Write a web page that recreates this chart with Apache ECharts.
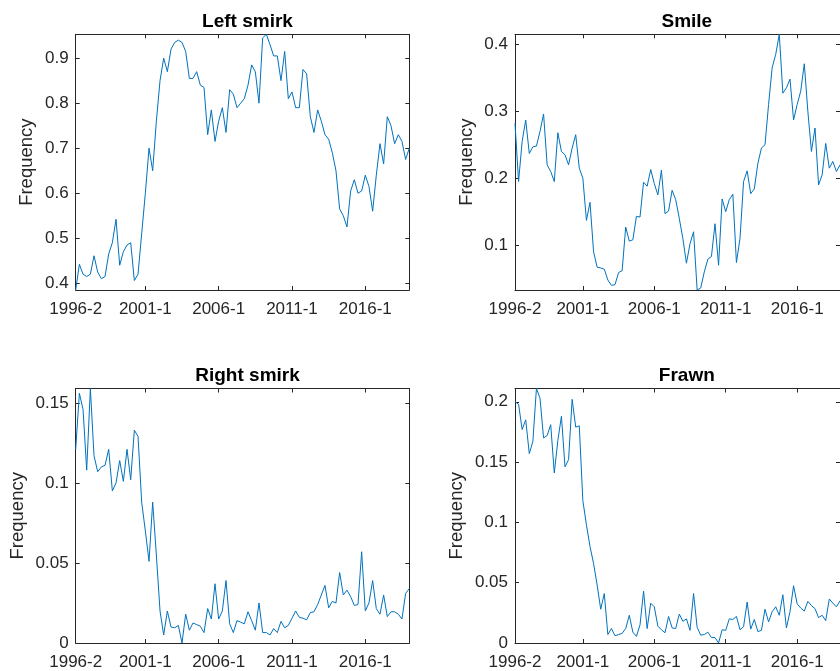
<!DOCTYPE html>
<html>
<head>
<meta charset="utf-8">
<script src="https://cdn.jsdelivr.net/npm/echarts@6/dist/echarts.min.js"></script>
<style>
html,body{margin:0;padding:0;background:#fff;}
#chart{width:840px;height:671px;}
</style>
</head>
<body>
<div id="chart"></div>
<script>
// Quarterly data, index 0 = 1996-2 ... index 91 = 2019-1
const xTickIndex = [0, 19, 39, 59, 79];
const xTickLabels = ['1996-2', '2001-1', '2006-1', '2011-1', '2016-1'];

const titles = ['Left smirk', 'Smile', 'Right smirk', 'Frawn'];

const leftSmirk = [
  0.385,0.442,0.42,0.415,0.42,0.461,0.425,0.41,0.415,0.465,
  0.49,0.542,0.44,0.47,0.485,0.49,0.406,0.42,0.51,0.60,
  0.70,0.65,0.76,0.85,0.90,0.87,0.92,0.935,0.94,0.935,
  0.915,0.855,0.855,0.87,0.84,0.835,0.73,0.785,0.715,0.76,
  0.79,0.735,0.83,0.82,0.79,0.80,0.81,0.84,0.885,0.87,
  0.80,0.945,0.953,0.93,0.905,0.905,0.85,0.915,0.81,0.825,
  0.79,0.79,0.875,0.865,0.77,0.735,0.785,0.76,0.73,0.72,
  0.69,0.65,0.565,0.55,0.525,0.605,0.63,0.60,0.605,0.64,
  0.615,0.56,0.64,0.71,0.665,0.77,0.75,0.71,0.73,0.715,
  0.675,0.70
];
const smile = [
  0.282,0.195,0.255,0.287,0.237,0.247,0.248,0.27,0.296,0.22,
  0.21,0.195,0.268,0.24,0.235,0.22,0.245,0.265,0.215,0.20,
  0.137,0.164,0.09,0.067,0.066,0.064,0.048,0.04,0.041,0.059,
  0.062,0.127,0.106,0.108,0.143,0.142,0.194,0.188,0.213,0.192,
  0.175,0.212,0.147,0.151,0.182,0.168,0.14,0.11,0.073,0.102,
  0.12,0.033,0.036,0.06,0.079,0.083,0.132,0.07,0.169,0.15,
  0.168,0.176,0.074,0.11,0.195,0.211,0.177,0.184,0.222,0.245,
  0.25,0.31,0.365,0.385,0.415,0.327,0.335,0.348,0.287,0.31,
  0.33,0.371,0.3,0.24,0.275,0.19,0.205,0.252,0.215,0.225,
  0.21,0.22
];
const rightSmirk = [
  0.121,0.156,0.146,0.108,0.159,0.117,0.107,0.11,0.111,0.121,
  0.095,0.1,0.114,0.101,0.121,0.102,0.133,0.129,0.088,0.07,
  0.051,0.088,0.055,0.02,0.005,0.02,0.01,0.0095,0.011,0,
  0.018,0.008,0.0125,0.0115,0.0105,0.0065,0.0215,0.015,0.037,0.015,
  0.02,0.039,0.012,0.0065,0.014,0.013,0.012,0.0195,0.014,0.008,
  0.025,0.0065,0.0065,0.005,0.009,0.0065,0.0135,0.0095,0.011,0.0155,
  0.02,0.016,0.0155,0.0145,0.019,0.0195,0.024,0.03,0.036,0.022,
  0.026,0.025,0.044,0.03,0.033,0.029,0.0235,0.024,0.057,0.02,
  0.025,0.039,0.0215,0.018,0.03,0.0165,0.0195,0.0195,0.018,0.015,
  0.031,0.034
];
const frawn = [
  0.2,0.198,0.177,0.185,0.157,0.167,0.211,0.203,0.17,0.172,
  0.181,0.141,0.168,0.188,0.146,0.152,0.202,0.179,0.18,0.118,
  0.098,0.08,0.066,0.048,0.028,0.041,0.007,0.012,0.006,0.007,
  0.008,0.012,0.023,0.009,0.0055,0.015,0.043,0.012,0.033,0.03,
  0.014,0.011,0.0085,0.022,0.0125,0.012,0.024,0.018,0.02,0.0105,
  0.041,0.013,0.0065,0.007,0.009,0.0045,0.0045,0,0.011,0.0105,
  0.02,0.0195,0.022,0.011,0.0135,0.034,0.0115,0.0195,0.0095,0.0105,
  0.028,0.0175,0.026,0.03,0.023,0.04,0.0125,0.026,0.0475,0.0325,
  0.029,0.0265,0.0345,0.031,0.0285,0.021,0.023,0.0185,0.0365,0.033,
  0.03,0.035
];

const yTicksLeftSmirk = [0.4, 0.5, 0.6, 0.7, 0.8, 0.9];
const yTicksSmile = [0.1, 0.2, 0.3, 0.4];
const yTicksRightSmirk = [0, 0.05, 0.1, 0.15];
const yTicksFrawn = [0, 0.05, 0.1, 0.15, 0.2];

const seriesData = [leftSmirk, smile, rightSmirk, frawn];
const yTicks = [yTicksLeftSmirk, yTicksSmile, yTicksRightSmirk, yTicksFrawn];

// layout
const grids = [
  {left: 75.7, top: 34.3, width: 333.6, height: 255.7},
  {left: 515,  top: 34.3, width: 333.6, height: 255.7},
  {left: 75.7, top: 388.5, width: 333.6, height: 256.2},
  {left: 515,  top: 388.5, width: 333.6, height: 256.2}
];
const nameGaps = [39, 39, 48, 49];
const titleTops = [7.5, 7.5, 361.5, 361.5];

const FONT = 'Liberation Sans, Arial, Helvetica, sans-serif';
const TXT = '#262626';
const AX = '#262626';
const LINE = '#0072BD';

const option = {
  animation: false,
  backgroundColor: '#ffffff',
  title: [],
  grid: [],
  xAxis: [],
  yAxis: [],
  series: []
};

for (let i = 0; i < 4; i++) {
  const g = grids[i];
  option.grid.push({left: g.left, top: g.top, width: g.width, height: g.height, containLabel: false});
  option.title.push({
    text: titles[i],
    left: g.left + g.width / 2,
    top: titleTops[i],
    textAlign: 'center',
    textStyle: {fontFamily: FONT, fontSize: 19, fontWeight: 'bold', color: '#000'}
  });
  const lastIdx = seriesData[i].length - 1;
  option.xAxis.push({
    type: 'value', gridIndex: i, position: 'bottom', min: 0, max: lastIdx,
    axisLine: {show: true, onZero: false, lineStyle: {color: AX, width: 1}},
    axisTick: {show: true, inside: true, length: 4, customValues: xTickIndex, lineStyle: {color: AX}},
    axisLabel: {
      show: true, customValues: xTickIndex, margin: 11,
      fontFamily: FONT, fontSize: 17, color: TXT,
      formatter: v => xTickLabels[xTickIndex.indexOf(v)]
    },
    splitLine: {show: false}
  });
  option.xAxis.push({
    type: 'value', gridIndex: i, position: 'top', min: 0, max: lastIdx,
    axisLine: {show: true, onZero: false, lineStyle: {color: AX, width: 1}},
    axisTick: {show: true, inside: true, length: 4, customValues: xTickIndex, lineStyle: {color: AX}},
    axisLabel: {show: false},
    splitLine: {show: false}
  });
  option.yAxis.push({
    type: 'value', gridIndex: i, position: 'left', min: 'dataMin', max: 'dataMax',
    name: 'Frequency', nameLocation: 'middle', nameGap: nameGaps[i],
    nameTextStyle: {fontFamily: FONT, fontSize: 18.5, color: TXT},
    axisLine: {show: true, onZero: false, lineStyle: {color: AX, width: 1}},
    axisTick: {show: true, inside: true, length: 4, customValues: yTicks[i], lineStyle: {color: AX}},
    axisLabel: {show: true, customValues: yTicks[i], margin: 7, fontFamily: FONT, fontSize: 17, color: TXT},
    splitLine: {show: false}
  });
  option.yAxis.push({
    type: 'value', gridIndex: i, position: 'right', min: 'dataMin', max: 'dataMax',
    axisLine: {show: true, onZero: false, lineStyle: {color: AX, width: 1}},
    axisTick: {show: true, inside: true, length: 4, customValues: yTicks[i], lineStyle: {color: AX}},
    axisLabel: {show: false},
    splitLine: {show: false}
  });
  option.series.push({
    type: 'line',
    xAxisIndex: i * 2,
    yAxisIndex: i * 2,
    data: seriesData[i].map((v, k) => [k, v]),
    symbol: 'none',
    lineStyle: {color: LINE, width: 1},
    itemStyle: {color: LINE},
    clip: true
  });
  option.series.push({
    type: 'line',
    xAxisIndex: i * 2 + 1,
    yAxisIndex: i * 2 + 1,
    data: seriesData[i].map((v, k) => [k, v]),
    symbol: 'none',
    lineStyle: {opacity: 0},
    silent: true
  });
}

const chart = echarts.init(document.getElementById('chart'), null, {renderer: 'canvas'});
chart.setOption(option);
</script>
</body>
</html>
